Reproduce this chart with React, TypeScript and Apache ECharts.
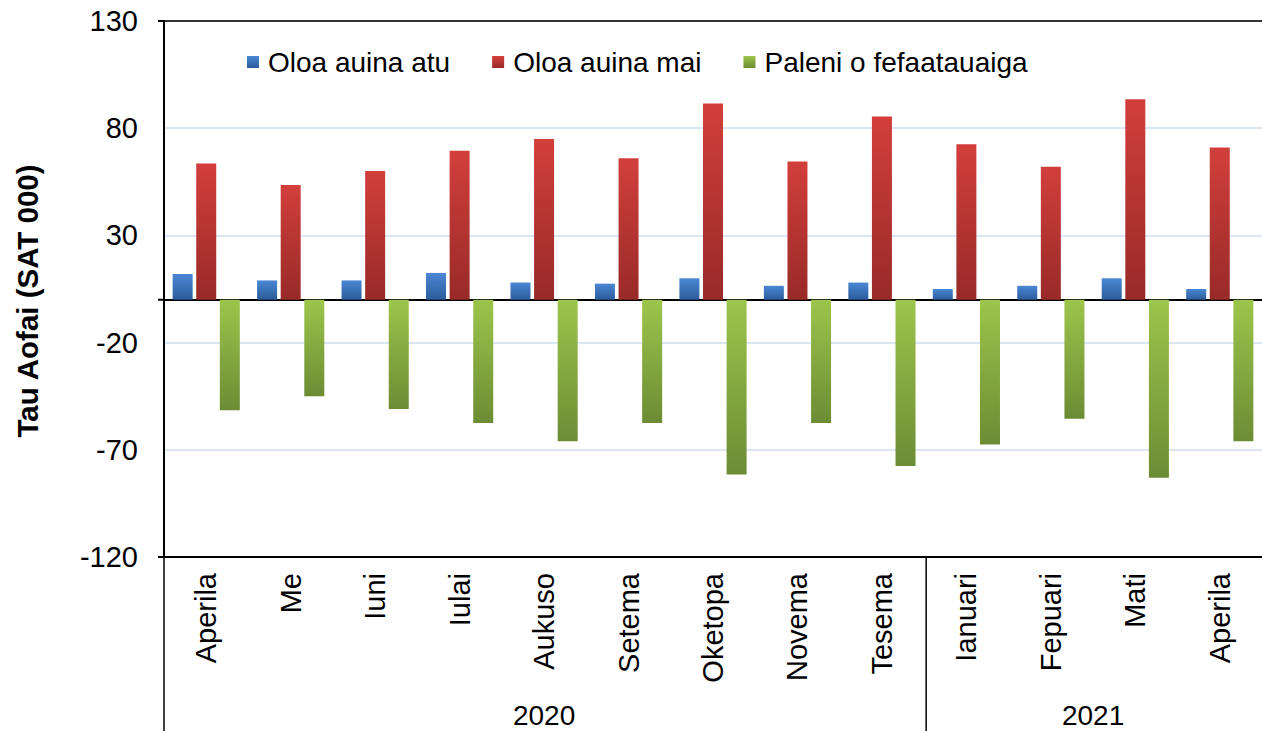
import React, { useEffect, useRef } from "react";
import * as echarts from "echarts";

const months = ["Aperila", "Me", "Iuni", "Iulai", "Aukuso", "Setema", "Oketopa", "Novema", "Tesema", "Ianuari", "Fepuari", "Mati", "Aperila"];
const years = [
  { label: "2020", from: 0, to: 8 },
  { label: "2021", from: 9, to: 12 },
];
const exportsSAT = [12, 9, 9, 12.5, 8, 7.5, 10, 6.5, 8, 5, 6.5, 10, 5];
const importsSAT = [63.5, 53.5, 60, 69.5, 75, 66, 91.5, 64.5, 85.5, 72.5, 62, 93.5, 71];
const balanceSAT = [-51.5, -45, -51, -57.5, -66, -57.5, -81.5, -57.5, -77.5, -67.5, -55.5, -83, -66];
const seriesNames = ["Oloa auina atu", "Oloa auina mai", "Paleni o fefaatauaiga"];
const yTicks = { min: -120, max: 130, interval: 50 };

const FONT = "'Liberation Sans', Arial, sans-serif";

const grad = (top: string, bottom: string) =>
  new echarts.graphic.LinearGradient(0, 0, 0, 1, [
    { offset: 0, color: top },
    { offset: 1, color: bottom },
  ]);

export default function App() {
  const ref = useRef<HTMLDivElement>(null);

  useEffect(() => {
    if (!ref.current) return;
    const chart = echarts.init(ref.current, null, { renderer: "svg" });
    const gridLeft = 164;
    const gridTop = 21;
    const gridBottomY = 557;
    const option: any = {
      animation: false,
      backgroundColor: "#ffffff",
      textStyle: { fontFamily: FONT },
      grid: { left: gridLeft, top: gridTop, right: 0, bottom: 731 - gridBottomY, containLabel: false },
      legend: {
        left: 242,
        top: 43,
        itemWidth: 12,
        itemHeight: 12,
        itemGap: 42,
        icon: "rect",
        textStyle: { fontSize: 28, color: "#000", fontFamily: FONT, padding: [0, 0, 0, 4] },
        data: seriesNames,
      },
      xAxis: [
        {
          type: "category",
          data: months,
          position: "bottom",
          axisLine: { onZero: false, lineStyle: { color: "#000", width: 2 } },
          axisTick: { show: false },
          axisLabel: { rotate: 90, fontSize: 29, color: "#000", margin: 16, fontFamily: FONT, interval: 0 },
          splitLine: { show: false },
        },
        {
          type: "category",
          data: months,
          position: "bottom",
          axisLine: { onZero: true, lineStyle: { color: "#000", width: 2 } },
          axisTick: { show: false },
          axisLabel: { show: false },
          splitLine: { show: false },
        },
      ],
      yAxis: {
        type: "value",
        min: yTicks.min,
        max: yTicks.max,
        interval: yTicks.interval,
        axisLine: { show: true, lineStyle: { color: "#000", width: 2 } },
        axisTick: { show: false },
        axisLabel: { fontSize: 29, color: "#000", margin: 26, fontFamily: FONT },
        splitLine: {
          show: true,
          lineStyle: {
            width: 2,
            color: ["#000", "#dce6f2", "#dce6f2", "#dce6f2", "#dce6f2", "#333"],
          },
        },
      },
      series: [
        {
          name: seriesNames[0],
          type: "bar",
          data: exportsSAT,
          barWidth: 20,
          barGap: "18%",
          itemStyle: { color: grad("#4a87d4", "#2c5c9b") },
        },
        {
          name: seriesNames[1],
          type: "bar",
          data: importsSAT,
          barWidth: 20,
          barGap: "18%",
          itemStyle: { color: grad("#d23f3b", "#982a28") },
        },
        {
          name: seriesNames[2],
          type: "bar",
          data: balanceSAT,
          barWidth: 20,
          barGap: "18%",
          itemStyle: { color: grad("#9cc54b", "#6c8c34") },
        },
      ],
    };
    chart.setOption(option);

    const c0 = chart.convertToPixel({ xAxisIndex: 0 }, 0) as number;
    const c1 = chart.convertToPixel({ xAxisIndex: 0 }, 1) as number;
    const band = c1 - c0;
    const edge = (i: number) => c0 - band / 2 + i * band;
    const yTop = chart.convertToPixel({ yAxisIndex: 0 }, yTicks.max) as number;
    const yZero = chart.convertToPixel({ yAxisIndex: 0 }, 0) as number;
    const yBot = chart.convertToPixel({ yAxisIndex: 0 }, yTicks.min) as number;

    const graphics: any[] = [];
    graphics.push({
      type: "text",
      x: 27,
      y: 301,
      rotation: Math.PI / 2,
      style: {
        text: "Tau Aofai (SAT 000)",
        font: `bold 29.5px ${FONT}`,
        fill: "#000",
        align: "center",
        verticalAlign: "middle",
      },
    });
    [yTop, yZero, yBot].forEach((y) => {
      graphics.push({
        type: "line",
        shape: { x1: gridLeft - 6, y1: y, x2: gridLeft, y2: y },
        style: { stroke: "#000", lineWidth: 2 },
      });
    });
    graphics.push({
      type: "line",
      shape: { x1: gridLeft, y1: yBot, x2: gridLeft, y2: 731 },
      style: { stroke: "#000", lineWidth: 1.5 },
    });
    years.forEach((yr, idx) => {
      const l = edge(yr.from);
      const r = edge(yr.to + 1);
      if (idx > 0) {
        graphics.push({
          type: "line",
          shape: { x1: l + 2, y1: yBot, x2: l + 2, y2: 731 },
          style: { stroke: "#000", lineWidth: 1.5 },
        });
      }
      graphics.push({
        type: "text",
        x: (l + r) / 2,
        y: 715,
        style: {
          text: yr.label,
          font: `28px ${FONT}`,
          fill: "#000",
          align: "center",
          verticalAlign: "middle",
        },
      });
    });
    chart.setOption({ graphic: graphics });

    return () => chart.dispose();
  }, []);

  return (
    <div
      ref={ref}
      style={{ position: "fixed", left: 0, top: 0, width: 1262, height: 731, background: "#fff" }}
    />
  );
}
